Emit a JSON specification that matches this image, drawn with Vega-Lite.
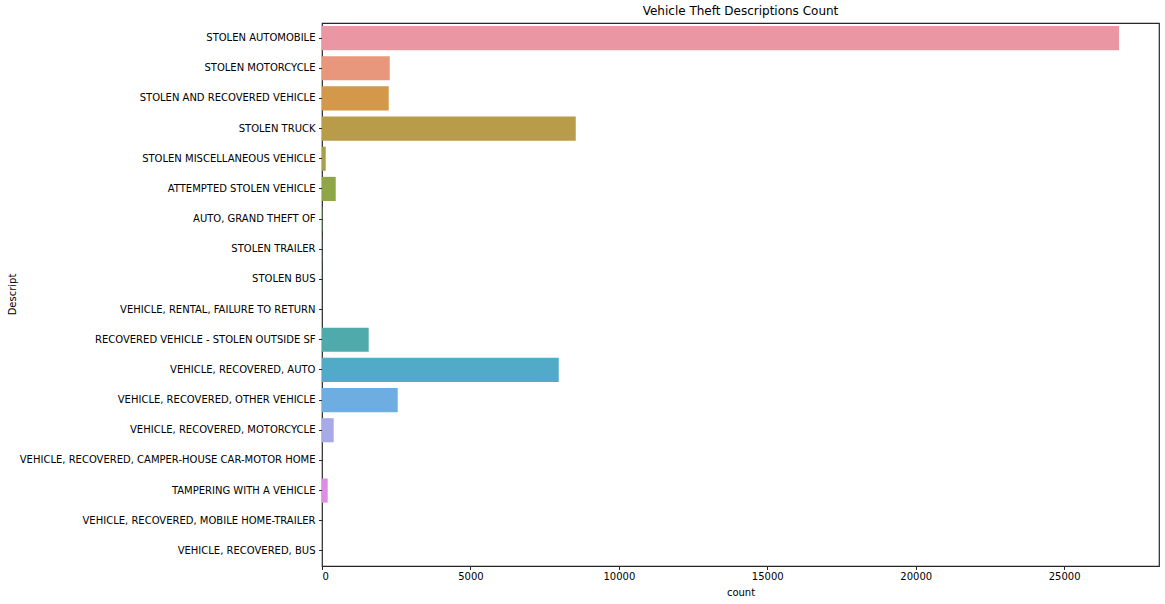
{
  "$schema": "https://vega.github.io/schema/vega-lite/v6.json",
  "autosize": {"type": "none"},
  "padding": {"left": 322, "top": 23, "right": 6, "bottom": 38},
  "width": 837,
  "height": 543,
  "title": {"text": "Vehicle Theft Descriptions Count", "fontSize": 12, "fontWeight": "normal", "font": "DejaVu Sans", "color": "#000000", "offset": 5},
  "config": {
    "view": {"stroke": "#262626", "strokeWidth": 1.2},
    "font": "DejaVu Sans",
    "axis": {"labelFont": "DejaVu Sans", "titleFont": "DejaVu Sans", "labelFontSize": 10, "titleFontSize": 10, "titleFontWeight": "normal", "labelColor": "#000000", "titleColor": "#000000", "tickColor": "#262626", "domainColor": "#262626", "grid": false, "tickSize": 3.5, "labelPadding": 3.5, "labelLimit": 0}
  },
  "data": {"values": [
    {"Descript": "STOLEN AUTOMOBILE", "count": 26850},
    {"Descript": "STOLEN MOTORCYCLE", "count": 2281},
    {"Descript": "STOLEN AND RECOVERED VEHICLE", "count": 2247},
    {"Descript": "STOLEN TRUCK", "count": 8548},
    {"Descript": "STOLEN MISCELLANEOUS VEHICLE", "count": 125},
    {"Descript": "ATTEMPTED STOLEN VEHICLE", "count": 462},
    {"Descript": "AUTO, GRAND THEFT OF", "count": 12},
    {"Descript": "STOLEN TRAILER", "count": 6},
    {"Descript": "STOLEN BUS", "count": 2},
    {"Descript": "VEHICLE, RENTAL, FAILURE TO RETURN", "count": 1},
    {"Descript": "RECOVERED VEHICLE - STOLEN OUTSIDE SF", "count": 1573},
    {"Descript": "VEHICLE, RECOVERED, AUTO", "count": 7975},
    {"Descript": "VEHICLE, RECOVERED, OTHER VEHICLE", "count": 2551},
    {"Descript": "VEHICLE, RECOVERED, MOTORCYCLE", "count": 394},
    {"Descript": "VEHICLE, RECOVERED, CAMPER-HOUSE CAR-MOTOR HOME", "count": 1},
    {"Descript": "TAMPERING WITH A VEHICLE", "count": 192},
    {"Descript": "VEHICLE, RECOVERED, MOBILE HOME-TRAILER", "count": 1},
    {"Descript": "VEHICLE, RECOVERED, BUS", "count": 1}
  ]},
  "mark": {"type": "bar"},
  "encoding": {
    "y": {"field": "Descript", "type": "nominal", "sort": null,
      "scale": {"paddingInner": 0.2, "paddingOuter": 0.1},
      "axis": {"title": "Descript", "titleAngle": -90, "titleX": -310, "titleY": 271, "titleBaseline": "middle", "titleAlign": "center", "domain": false}},
    "x": {"field": "count", "type": "quantitative",
      "scale": {"domain": [0, 28196], "nice": false, "zero": true},
      "axis": {"title": "count", "values": [0, 5000, 10000, 15000, 20000, 25000], "format": "d", "titleY": 26, "titleBaseline": "middle", "domain": false, "labelPadding": 2}},
    "color": {"field": "Descript", "type": "nominal", "sort": null, "legend": null,
      "scale": {"range": ["#EA96A3", "#E8967C", "#D39849", "#B89C49", "#A6A046", "#8FA546", "#60AA4A", "#4DAA80", "#4EA891", "#4FA79E", "#50A9AB", "#51ABC8", "#6EADE2", "#A6ABE8", "#C3A0E8", "#DC8EE4", "#E891CF", "#E995B6"]}}
  }
}
